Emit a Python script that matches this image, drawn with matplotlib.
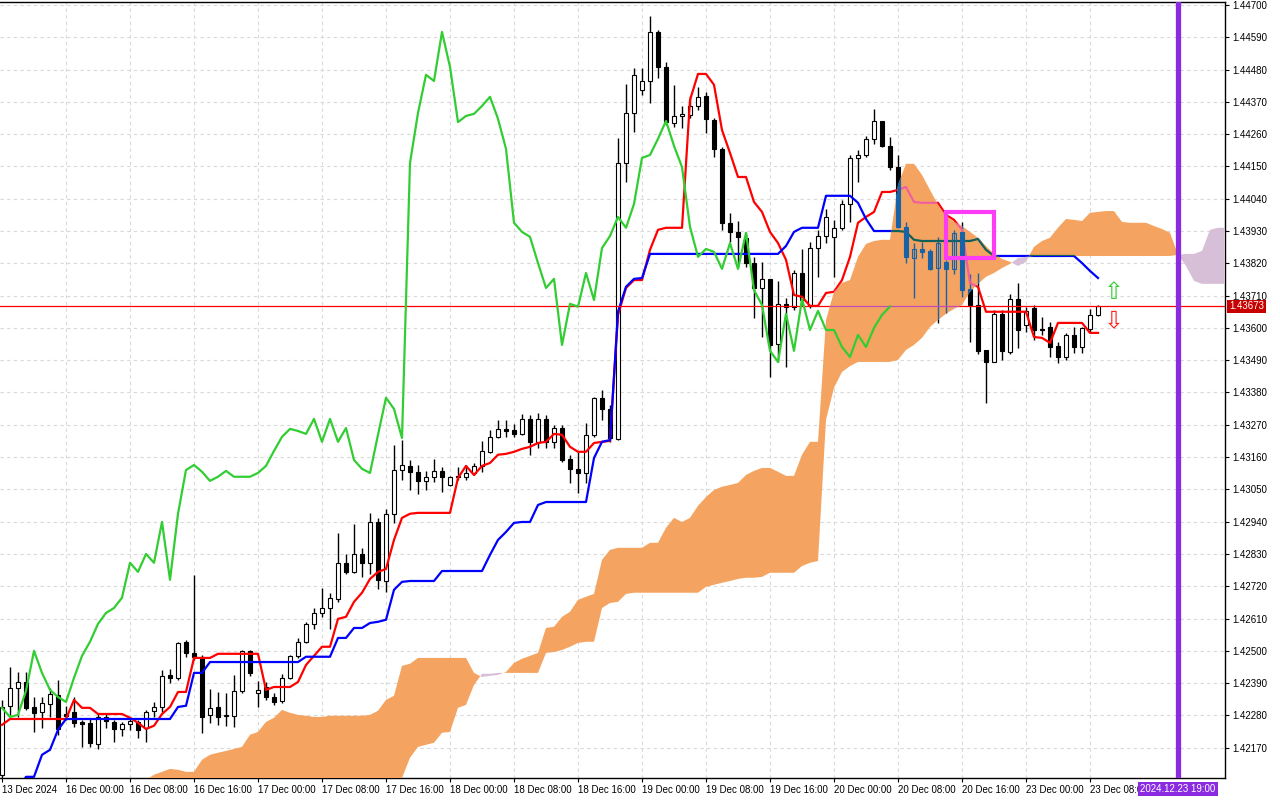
import numpy as np
import matplotlib
matplotlib.use('Agg')
import matplotlib.pyplot as plt
from matplotlib.path import Path
from matplotlib.patches import Rectangle

plt.rcParams['font.family'] = ['Liberation Sans', 'DejaVu Sans']

# --- H1 candles, 13 Dec 16:00 .. 23 Dec 09:00 ---
open_ = [1.42078, 1.42313, 1.42374, 1.42394, 1.42309, 1.42292, 1.42320, 1.42350, 1.42285, 1.42292,
         1.42258, 1.42255, 1.42183, 1.42275, 1.42258, 1.42234, 1.42251, 1.42258, 1.42238, 1.42296,
         1.42309, 1.42418, 1.42408, 1.42531, 1.42493, 1.42480, 1.42282, 1.42309, 1.42279, 1.42279,
         1.42364, 1.42500, 1.42357, 1.42377, 1.42343, 1.42330, 1.42408, 1.42483, 1.42531, 1.42592,
         1.42629, 1.42646, 1.42677, 1.42800, 1.42769, 1.42830, 1.42800, 1.42939, 1.42738, 1.42967,
         1.43116, 1.43130, 1.43110, 1.43079, 1.43093, 1.43113, 1.43065, 1.43096, 1.43093, 1.43106,
         1.43130, 1.43178, 1.43229, 1.43256, 1.43253, 1.43239, 1.43290, 1.43212, 1.43290, 1.43212,
         1.43259, 1.43154, 1.43120, 1.43106, 1.43236, 1.43362, 1.43324, 1.43222, 1.44162, 1.44332,
         1.44410, 1.44441, 1.44608, 1.44489, 1.44298, 1.44322, 1.44325, 1.44356, 1.44390, 1.44308,
         1.44210, 1.43958, 1.43927, 1.43907, 1.43821, 1.43736, 1.43767, 1.43546, 1.43682, 1.43672,
         1.43787, 1.43675, 1.43872, 1.43913, 1.43910, 1.43941, 1.44022, 1.44179, 1.44189, 1.44244,
         1.44305, 1.44220, 1.44148, 1.43944, 1.43838, 1.43869, 1.43862, 1.43804, 1.43825, 1.43801,
         1.43927, 1.43733, 1.43678, 1.43525, 1.43484, 1.43648, 1.43518, 1.43699, 1.43610, 1.43668,
         1.43597, 1.43603, 1.43539, 1.43501, 1.43576, 1.43535, 1.43597, 1.43644]
high = [1.42333, 1.42446, 1.42428, 1.42428, 1.42343, 1.42343, 1.42374, 1.42401, 1.42313, 1.42343,
        1.42265, 1.42268, 1.42289, 1.42285, 1.42265, 1.42258, 1.42275, 1.42265, 1.42299, 1.42326,
        1.42435, 1.42439, 1.42531, 1.42537, 1.42759, 1.42486, 1.42371, 1.42360, 1.42357, 1.42418,
        1.42503, 1.42503, 1.42398, 1.42394, 1.42357, 1.42422, 1.42486, 1.42544, 1.42599, 1.42646,
        1.42715, 1.42698, 1.42902, 1.42830, 1.42933, 1.42851, 1.42970, 1.42953, 1.42984, 1.43202,
        1.43218, 1.43150, 1.43133, 1.43113, 1.43154, 1.43127, 1.43096, 1.43127, 1.43133, 1.43140,
        1.43215, 1.43253, 1.43287, 1.43287, 1.43273, 1.43307, 1.43304, 1.43310, 1.43304, 1.43270,
        1.43270, 1.43168, 1.43178, 1.43276, 1.43365, 1.43389, 1.43338, 1.44247, 1.44431, 1.44485,
        1.44485, 1.44662, 1.44615, 1.44506, 1.44428, 1.44356, 1.44390, 1.44421, 1.44404, 1.44315,
        1.44216, 1.43992, 1.43964, 1.43924, 1.43842, 1.43825, 1.43767, 1.43760, 1.43702, 1.43798,
        1.43869, 1.43893, 1.43934, 1.44005, 1.43968, 1.44036, 1.44189, 1.44206, 1.44254, 1.44346,
        1.44305, 1.44250, 1.44189, 1.43961, 1.43889, 1.43893, 1.43869, 1.43910, 1.43832, 1.43934,
        1.43961, 1.43784, 1.43787, 1.43525, 1.43661, 1.43661, 1.43716, 1.43753, 1.43672, 1.43678,
        1.43637, 1.43620, 1.43552, 1.43583, 1.43603, 1.43603, 1.43665, 1.43678]
low = [1.42067, 1.42282, 1.42275, 1.42299, 1.42224, 1.42238, 1.42275, 1.42214, 1.42265, 1.42241,
       1.42173, 1.42173, 1.42166, 1.42238, 1.42190, 1.42211, 1.42231, 1.42204, 1.42190, 1.42275,
       1.42292, 1.42391, 1.42401, 1.42480, 1.42469, 1.42221, 1.42255, 1.42248, 1.42245, 1.42241,
       1.42357, 1.42415, 1.42309, 1.42333, 1.42316, 1.42323, 1.42405, 1.42476, 1.42527, 1.42575,
       1.42616, 1.42575, 1.42667, 1.42762, 1.42766, 1.42752, 1.42762, 1.42711, 1.42701, 1.42936,
       1.43082, 1.43048, 1.43035, 1.43048, 1.43076, 1.43041, 1.43062, 1.43082, 1.43082, 1.43099,
       1.43110, 1.43174, 1.43225, 1.43229, 1.43229, 1.43236, 1.43168, 1.43191, 1.43191, 1.43191,
       1.43144, 1.43072, 1.43038, 1.43072, 1.43229, 1.43287, 1.43212, 1.43218, 1.44097, 1.44267,
       1.44394, 1.44366, 1.44451, 1.44291, 1.44285, 1.44281, 1.44315, 1.44342, 1.44264, 1.44182,
       1.43934, 1.43893, 1.43808, 1.43808, 1.43634, 1.43569, 1.43433, 1.43484, 1.43467, 1.43661,
       1.43678, 1.43668, 1.43774, 1.43889, 1.43774, 1.43934, 1.43961, 1.44097, 1.44182, 1.44227,
       1.44216, 1.44138, 1.43941, 1.43821, 1.43702, 1.43838, 1.43798, 1.43617, 1.43651, 1.43784,
       1.43706, 1.43552, 1.43511, 1.43345, 1.43484, 1.43491, 1.43511, 1.43532, 1.43586, 1.43559,
       1.43576, 1.43501, 1.43481, 1.43491, 1.43515, 1.43515, 1.43583, 1.43641]
close_ = [1.42309, 1.42374, 1.42394, 1.42306, 1.42289, 1.42323, 1.42354, 1.42234, 1.42279, 1.42255,
          1.42251, 1.42187, 1.42275, 1.42262, 1.42234, 1.42251, 1.42262, 1.42231, 1.42292, 1.42309,
          1.42415, 1.42408, 1.42527, 1.42493, 1.42480, 1.42275, 1.42306, 1.42275, 1.42282, 1.42364,
          1.42500, 1.42425, 1.42367, 1.42343, 1.42326, 1.42408, 1.42483, 1.42531, 1.42592, 1.42629,
          1.42646, 1.42681, 1.42800, 1.42769, 1.42830, 1.42800, 1.42939, 1.42742, 1.42967, 1.43116,
          1.43133, 1.43110, 1.43079, 1.43093, 1.43113, 1.43093, 1.43093, 1.43093, 1.43106, 1.43130,
          1.43181, 1.43229, 1.43256, 1.43249, 1.43239, 1.43290, 1.43212, 1.43290, 1.43212, 1.43259,
          1.43150, 1.43120, 1.43106, 1.43236, 1.43362, 1.43324, 1.43225, 1.44162, 1.44332, 1.44462,
          1.44441, 1.44608, 1.44489, 1.44301, 1.44322, 1.44329, 1.44356, 1.44387, 1.44312, 1.44210,
          1.43958, 1.43927, 1.43910, 1.43821, 1.43736, 1.43767, 1.43542, 1.43682, 1.43672, 1.43787,
          1.43695, 1.43872, 1.43913, 1.43978, 1.43941, 1.44022, 1.44179, 1.44189, 1.44244, 1.44305,
          1.44220, 1.44148, 1.43944, 1.43842, 1.43869, 1.43859, 1.43801, 1.43889, 1.43801, 1.43924,
          1.43729, 1.43678, 1.43522, 1.43484, 1.43648, 1.43522, 1.43699, 1.43593, 1.43658, 1.43593,
          1.43593, 1.43535, 1.43501, 1.43576, 1.43535, 1.43600, 1.43644, 1.43673]

# --- Ichimoku lines ---
tenkan = ([1.42248] + [1.42268] * 8 + [1.42333, 1.42306, 1.42306] + [1.42285] * 4 +
          [1.42272, 1.42255, 1.42234, 1.42245, 1.42285, 1.42309, 1.42360, 1.42360, 1.42476, 1.42476, 1.42476] +
          [1.42490] * 6 + [1.42367] + [1.42377] * 3 +
          [1.42394, 1.42452, 1.42483, 1.42514, 1.42514, 1.42609, 1.42616, 1.42667, 1.42698, 1.42745,
           1.42769, 1.42779, 1.42878, 1.42953, 1.42967] + [1.42970] * 5 +
          [1.43089, 1.43130, 1.43099, 1.43130, 1.43140, 1.43168, 1.43171, 1.43178, 1.43188, 1.43195,
           1.43208, 1.43212, 1.43239, 1.43236, 1.43195, 1.43178, 1.43178, 1.43208, 1.43212, 1.43215,
           1.43644, 1.43736, 1.43763, 1.43763, 1.43866, 1.43934, 1.43941, 1.43941, 1.43941, 1.44376,
           1.44465, 1.44465, 1.44428, 1.44274, 1.44196, 1.44114, 1.44114, 1.44029, 1.43995, 1.43927,
           1.43889, 1.43832, 1.43712, 1.43706, 1.43675, 1.43675, 1.43719, 1.43723, 1.43763, 1.43842,
           1.43958, 1.43978, 1.43995, 1.44063, 1.44063, 1.44070, 1.44080, 1.44029, 1.44026, 1.44026,
           1.44026, 1.43985, 1.43968, 1.43934, 1.43753, 1.43740] + [1.43655] * 6 +
          [1.43569, 1.43566, 1.43549] + [1.43617] * 4 + [1.43583, 1.43583])
kijun = ([1.42027] * 3 + [1.42071, 1.42071, 1.42146, 1.42163, 1.42231] + [1.42268] * 14 +
         [1.42309, 1.42313, 1.42425, 1.42425] + [1.42462] * 12 + [1.42480] * 4 +
         [1.42544, 1.42544, 1.42578, 1.42578, 1.42595, 1.42599, 1.42606, 1.42708, 1.42735] +
         [1.42738] * 4 + [1.42772] * 6 +
         [1.42827, 1.42878, 1.42905, 1.42936, 1.42939, 1.42939, 1.42997] + [1.43007] * 6 +
         [1.43157, 1.43212, 1.43218, 1.43655, 1.43740, 1.43767, 1.43770] + [1.43852] * 17 +
         [1.43879, 1.43927] + [1.43941] * 3 + [1.44050] * 4 + [1.44026, 1.43971] + [1.43930] * 4 +
         [1.43927, 1.43900] + [1.43896] * 7 + [1.43903, 1.43866] + [1.43845] * 11 +
         [1.43821, 1.43794, 1.43770])
span_a = ([1.42027] * 18 +
          [1.42061, 1.42078, 1.42088, 1.42098, 1.42095, 1.42088, 1.42088, 1.42129, 1.42146, 1.42153,
           1.42159, 1.42166, 1.42173, 1.42214, 1.42224, 1.42258, 1.42272, 1.42299, 1.42289, 1.42282,
           1.42279, 1.42275, 1.42275, 1.42279, 1.42279, 1.42279, 1.42279, 1.42279, 1.42282, 1.42296,
           1.42333, 1.42347, 1.42449, 1.42456] + [1.42476] * 7 +
          [1.42425, 1.42411, 1.42415, 1.42418, 1.42428, 1.42459, 1.42473, 1.42483, 1.42493, 1.42578,
           1.42582, 1.42616, 1.42633, 1.42674, 1.42684, 1.42694, 1.42810, 1.42844] + [1.42851] * 4 +
          [1.42868, 1.42868, 1.42919, 1.42953, 1.42939, 1.42953, 1.42994, 1.43024, 1.43048, 1.43059,
           1.43065, 1.43072, 1.43099, 1.43113, 1.43123, 1.43123, 1.43110, 1.43096, 1.43096, 1.43168,
           1.43212, 1.43212, 1.43627, 1.43723, 1.43753, 1.43763, 1.43842, 1.43886, 1.43896, 1.43900,
           1.43900, 1.44087, 1.44159, 1.44159, 1.44121, 1.44070, 1.44019, 1.43981, 1.43961, 1.43947,
           1.43927, 1.43907, 1.43879, 1.43852, 1.43835, 1.43825, 1.43811, 1.43825, 1.43876, 1.43896,
           1.43907, 1.43941, 1.43971, 1.43968, 1.43964, 1.43992, 1.43995, 1.43998, 1.43998, 1.43961,
           1.43958, 1.43958, 1.43958, 1.43947, 1.43937, 1.43924, 1.43849, 1.43811, 1.43760] +
          [1.43750] * 4)
span_b = ([1.41992] * 50 +
          [1.42067, 1.42136, 1.42173, 1.42180, 1.42187, 1.42221, 1.42224, 1.42306, 1.42316, 1.42384,
           1.42422, 1.42422] + [1.42425] * 6 +
          [1.42493, 1.42496, 1.42503, 1.42514, 1.42527, 1.42531, 1.42531, 1.42646, 1.42663, 1.42667,
           1.42694] + [1.42698] * 9 +
          [1.42718, 1.42725, 1.42732, 1.42738, 1.42745, 1.42749, 1.42749, 1.42752] + [1.42766] * 4 +
          [1.42789, 1.42800, 1.42806, 1.43287, 1.43396, 1.43450, 1.43470] + [1.43484] * 5 +
          [1.43491, 1.43525, 1.43542, 1.43566, 1.43603, 1.43627, 1.43648, 1.43665, 1.43678, 1.43723,
           1.43750, 1.43774, 1.43787, 1.43804, 1.43818, 1.43838, 1.43842] + [1.43845] * 18 +
          [1.43849, 1.43852, 1.43852, 1.43862, 1.43934, 1.43941, 1.43941])

chikou_shift = 26
time_labels = ['13 Dec 2024', '16 Dec 00:00', '16 Dec 08:00', '16 Dec 16:00', '17 Dec 00:00',
               '17 Dec 08:00', '17 Dec 16:00', '18 Dec 00:00', '18 Dec 08:00', '18 Dec 16:00',
               '19 Dec 00:00', '19 Dec 08:00', '19 Dec 16:00', '20 Dec 00:00', '20 Dec 08:00',
               '20 Dec 16:00', '23 Dec 00:00', '23 Dec 08:00']
label_bars = [0, 8, 16, 24, 32, 40, 48, 56, 64, 72, 80, 88, 96, 104, 112, 120, 128, 136]
price_ticks = [1.42170, 1.42280, 1.42390, 1.42500, 1.42610, 1.42720, 1.42830, 1.42940,
               1.43050, 1.43160, 1.43270, 1.43380, 1.43490, 1.43600, 1.43710, 1.43820,
               1.43930, 1.44040, 1.44150, 1.44260, 1.44370, 1.44480, 1.44590, 1.44700]
last_price = 1.43673
vline_bar = 147
vline_text = '2024.12.23 19:00'
box_bars = (118, 124)
box_prices = (1.43838, 1.43995)
arrow_bar = 139
up_arrow_price = 1.43723
down_arrow_price = 1.43627

open_ = np.array(open_); high = np.array(high); low = np.array(low); close_ = np.array(close_)
n = len(close_)
bars = np.arange(n)

fig = plt.figure(figsize=(12.8, 8), dpi=100)
ax = fig.add_axes([0, 22 / 800, 1225 / 1280, 776 / 800])
ax.set_xlim(-0.25, 152.875)
ax.set_ylim(1.42067, 1.44710)

# grid
for b in label_bars[1:]:
    ax.axvline(b, color='#d9d9d9', lw=0.8, ls=(0, (3, 3)), zorder=0)
for p in price_ticks:
    ax.axhline(p, color='#d9d9d9', lw=0.8, ls=(0, (3, 3)), zorder=0)


def draw_candles(edge, up_face, down_face, z):
    arts = [ax.vlines(bars, low, high, color=edge, lw=1, zorder=z)]
    lo = np.minimum(open_, close_)
    h = np.abs(close_ - open_)
    up = close_ >= open_
    for mask, face in ((up, up_face), (~up, down_face)):
        bc = ax.bar(bars[mask], h[mask], bottom=lo[mask], width=0.55, facecolor=face,
                    edgecolor=edge, linewidth=0.8, zorder=z + 0.1)
        arts.extend(bc.patches)
    return arts


draw_candles('black', 'white', 'black', 2)
ax.plot(bars, tenkan, color='#ff0000', lw=1.6, zorder=3)
ax.plot(bars, kijun, color='#0000ff', lw=1.6, zorder=3)
ax.axhline(last_price, color='#ff0000', lw=0.9, zorder=3)

# cloud
cb = np.arange(len(span_a))
sa = np.array(span_a); sb = np.array(span_b)
bull = ax.fill_between(cb, sa, sb, where=sa >= sb, interpolate=True, facecolor='#f4a460',
                       edgecolor='none', zorder=4)
ax.fill_between(cb, sa, sb, where=sa < sb, interpolate=True, facecolor='#d8bfd8',
                edgecolor='none', zorder=4)

# things under the cloud show through in mixed colours
clip = Path.make_compound_path(*bull.get_paths())
mixed = draw_candles('#1862a8', 'none', '#1862a8', 5)
mixed += ax.plot(bars, tenkan, color='#f0609e', lw=1.6, zorder=5)
mixed += ax.plot(bars, kijun, color='#12605c', lw=1.6, zorder=5)
mixed.append(ax.axhline(last_price, color='#c44cb4', lw=0.9, zorder=5))
for a in mixed:
    a.set_clip_path(clip, ax.transData)

# chikou span on top
ax.plot(bars[:n - chikou_shift], close_[chikou_shift:], color='#32cd32', lw=1.6, zorder=6)

ax.axvline(vline_bar, color='#8a2be2', lw=3.8, zorder=7)
ax.add_patch(Rectangle((box_bars[0], box_prices[0]), box_bars[1] - box_bars[0],
                       box_prices[1] - box_prices[0], fill=False, ec='#ff3cf5', lw=3, zorder=8))
ax.text(arrow_bar, up_arrow_price, '\u21e7', color='#32cd32', fontsize=17, ha='center',
        va='center', zorder=8, family=['DejaVu Sans'])
ax.text(arrow_bar, down_arrow_price, '\u21e9', color='#ff2020', fontsize=17, ha='center',
        va='center', zorder=8, family=['DejaVu Sans'])

# axes
for s in ('top', 'right', 'bottom'):
    ax.spines[s].set_color('black')
    ax.spines[s].set_linewidth(1)
ax.spines['left'].set_visible(False)
ax.yaxis.tick_right()
ax.set_yticks(price_ticks)
ax.set_yticklabels(['%.5f' % p for p in price_ticks])
ax.set_xticks(label_bars)
ax.set_xticklabels(time_labels, ha='left')
ax.tick_params(axis='both', labelsize=7, length=3, width=0.8, pad=2, colors='black')

ax.annotate('%.5f' % last_price, xy=(1, last_price), xycoords=('axes fraction', 'data'),
            xytext=(3, 0), textcoords='offset points', ha='left', va='center', color='white',
            fontsize=7, zorder=10, annotation_clip=False,
            bbox=dict(boxstyle='square,pad=0.2', fc='#c80000', ec='none'))
ax.annotate(vline_text, xy=(vline_bar, 0), xycoords=('data', 'axes fraction'),
            xytext=(0, -8), textcoords='offset points', ha='center', va='center', color='white',
            fontsize=7, zorder=10, annotation_clip=False,
            bbox=dict(boxstyle='square,pad=0.2', fc='#8a2be2', ec='none'))

fig.savefig('out.png', dpi=100)
